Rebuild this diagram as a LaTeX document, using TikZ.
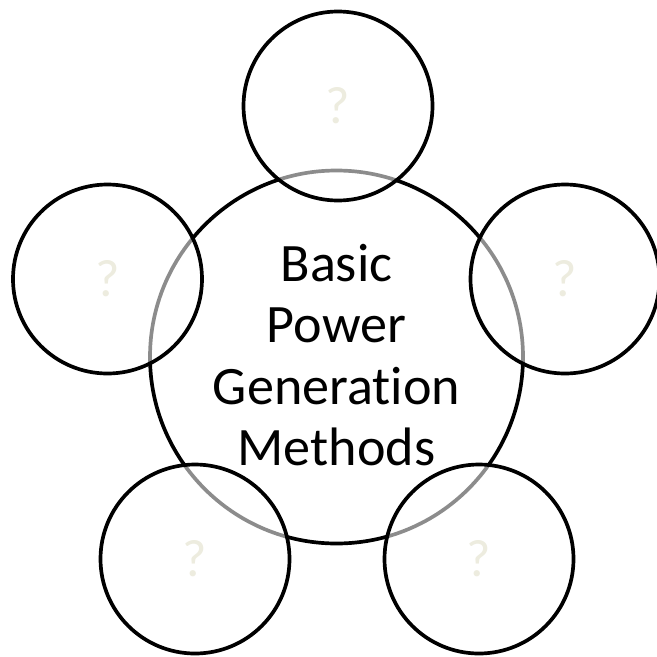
\documentclass[tikz,border=0pt]{standalone}
\usepackage{fontspec}
\setmainfont{Carlito}[Ligatures=NoCommon]
\usepackage{tikz}

\definecolor{qmark}{HTML}{EDECDF}

\begin{document}
\begin{tikzpicture}[
  bubble/.style={circle,draw=black,line width=2.1pt,fill=white,fill opacity=0.55,text opacity=1,minimum size=3.78cm,inner sep=0pt,text=qmark,font=\fontsize{30}{34}\selectfont},
  hub/.style={circle,draw=black,line width=2.1pt,minimum size=7.46cm,inner sep=0pt}]
\useasboundingbox (0,0) rectangle (13.14,13.12);

\node[hub] (hub) at (6.73,5.98) {};
\node[font=\fontsize{30.8}{35}\selectfont,align=center] (title) at (6.73,6.02) {Basic\\Power\\Generation\\Methods};

\node[bubble] (top) at (6.76,11.0) {?};
\node[bubble] (left) at (2.15,7.54) {?};
\node[bubble] (right) at (11.30,7.54) {?};
\node[bubble] (botleft) at (3.90,1.94) {?};
\node[bubble] (botright) at (9.58,1.94) {?};
\end{tikzpicture}
\end{document}
